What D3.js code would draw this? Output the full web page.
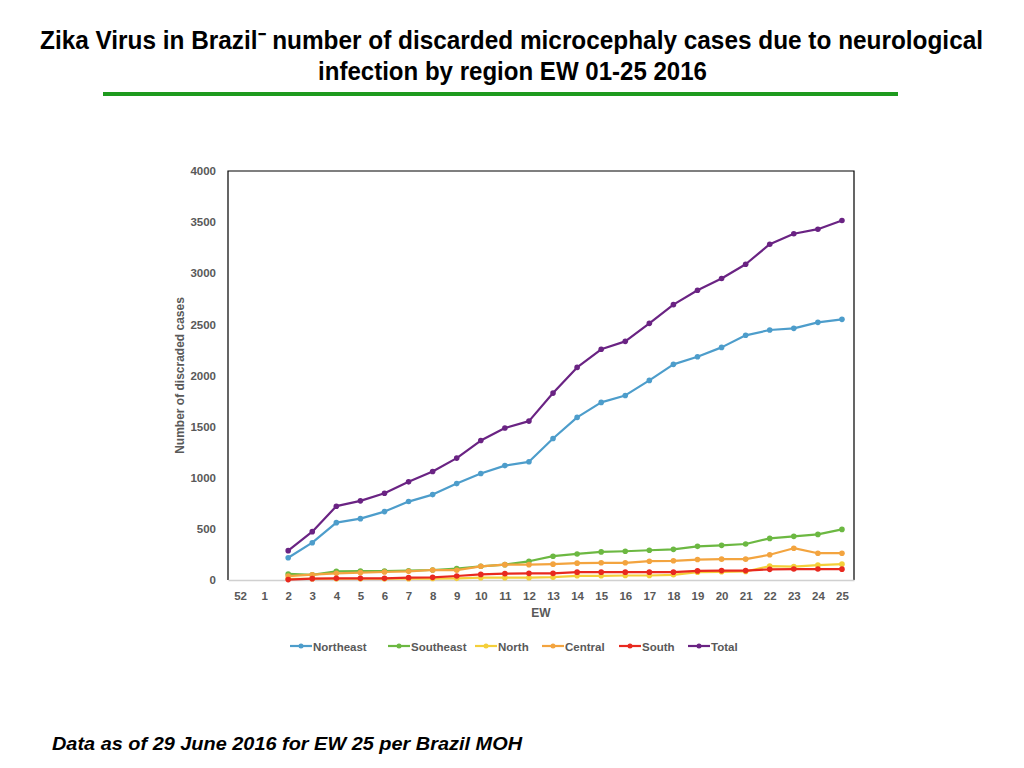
<!DOCTYPE html>
<html>
<head>
<meta charset="utf-8">
<script src="https://cdn.jsdelivr.net/npm/d3@7"></script>
<style>
  body { margin: 0; background: #fff; }
  svg { display: block; }
</style>
</head>
<body>
<svg id="chart" width="1024" height="768"></svg>
<script>
// Epidemiological weeks shown on the x axis
const weeks = ["52", "1", "2", "3", "4", "5", "6", "7", "8", "9", "10", "11", "12",
  "13", "14", "15", "16", "17", "18", "19", "20", "21", "22", "23", "24", "25"];

// Values per region, EW 2..25 (EW 52 and 1 have no data)
const dataWeeks = weeks.slice(2);
const northeast = [218, 365, 561, 600, 669, 767, 835, 943, 1041, 1119, 1156, 1384,
  1590, 1737, 1805, 1952, 2109, 2184, 2275, 2393, 2445, 2461, 2520, 2549];
const southeast = [59, 50, 85, 88, 88, 91, 98, 112, 134, 150, 183, 233,
  255, 275, 281, 291, 300, 329, 339, 352, 407, 427, 446, 495];
const north = [12, 12, 12, 12, 12, 12, 14, 16, 23, 23, 23, 28,
  41, 41, 44, 44, 51, 77, 80, 83, 136, 131, 145, 155];
const central = [38, 52, 65, 72, 78, 85, 98, 96, 134, 150, 150, 155,
  165, 168, 168, 184, 188, 200, 204, 204, 247, 311, 262, 262];
const south = [4, 13, 16, 16, 16, 23, 26, 39, 55, 62, 65, 65,
  77, 77, 77, 77, 77, 89, 92, 92, 104, 107, 107, 106];
const total = [287, 473, 722, 774, 849, 960, 1061, 1192, 1364, 1486, 1554, 1828,
  2079, 2256, 2334, 2510, 2693, 2834, 2948, 3088, 3284, 3386, 3431, 3516];

const yTicks = [0, 500, 1000, 1500, 2000, 2500, 3000, 3500, 4000];

const seriesNames = ["Northeast", "Southeast", "North", "Central", "South", "Total"];
const seriesValues = [northeast, southeast, north, central, south, total];
const seriesColors = ["#4d9dcb", "#6cb842", "#f4cf3a", "#f3a43f", "#e8291f", "#6a2383"];

const svg = d3.select("#chart");
const tickFont = "'Liberation Sans', Arial, sans-serif";
const gray = "#595959";

// Title: condensed bold heading, squeezed to the original line widths
const titleLines = [
  "Zika Virus in Brazil\u207B  number of  discarded microcephaly cases due to neurological",
  "infection by region EW 01-25 2016"
];
const title = svg.append("g")
  .style("font-family", "'Liberation Sans', Arial, sans-serif")
  .style("font-weight", "bold")
  .style("font-size", "25px");
title.append("text")
  .attr("x", 40).attr("y", 49)
  .attr("textLength", 943)
  .attr("lengthAdjust", "spacingAndGlyphs")
  .text(titleLines[0]);
title.append("text")
  .attr("x", 318).attr("y", 80)
  .attr("textLength", 389)
  .attr("lengthAdjust", "spacingAndGlyphs")
  .text(titleLines[1]);

svg.append("line")
  .attr("x1", 103).attr("x2", 898)
  .attr("y1", 94).attr("y2", 94)
  .attr("stroke", "#1e9a1e")
  .attr("stroke-width", 4);

// Plot area
const plot = { left: 228, right: 854, top: 171, bottom: 580 };

const x = d3.scalePoint()
  .domain(weeks)
  .range([plot.left, plot.right])
  .padding(0.5);
const y = d3.scaleLinear()
  .domain([0, 4000])
  .range([plot.bottom, plot.top]);

// Frame: black on top, left and right, light gray baseline
svg.append("path")
  .attr("d", `M${plot.left},${plot.bottom}V${plot.top}H${plot.right}V${plot.bottom}`)
  .attr("fill", "none")
  .attr("stroke", "#000")
  .attr("stroke-width", 1.2);

const xAxis = svg.append("g")
  .attr("transform", `translate(0,${plot.bottom})`)
  .call(d3.axisBottom(x).tickSize(0).tickPadding(12));
xAxis.select(".domain").attr("stroke", "#d0d0d0").attr("stroke-width", 1.5);
xAxis.selectAll("text")
  .style("font-family", tickFont)
  .style("font-size", "11.5px")
  .style("font-weight", "bold")
  .attr("fill", gray);

const yAxis = svg.append("g")
  .attr("transform", `translate(${plot.left},0)`)
  .call(d3.axisLeft(y).tickValues(yTicks).tickFormat(d3.format("d")).tickSize(0).tickPadding(12));
yAxis.select(".domain").remove();
yAxis.selectAll("text")
  .style("font-family", tickFont)
  .style("font-size", "11.5px")
  .style("font-weight", "bold")
  .attr("fill", gray);

// Axis titles
svg.append("text")
  .attr("transform", `translate(184,${(plot.top + plot.bottom) / 2}) rotate(-90)`)
  .attr("text-anchor", "middle")
  .style("font-family", tickFont)
  .style("font-size", "12px")
  .style("font-weight", "bold")
  .attr("fill", gray)
  .text("Number of discraded cases");

svg.append("text")
  .attr("x", (plot.left + plot.right) / 2)
  .attr("y", 617)
  .attr("text-anchor", "middle")
  .style("font-family", tickFont)
  .style("font-size", "12px")
  .style("font-weight", "bold")
  .attr("fill", gray)
  .text("EW");

// Series lines and markers
const line = d3.line()
  .x((d, i) => x(dataWeeks[i]))
  .y(d => y(d));

seriesNames.forEach((name, k) => {
  const g = svg.append("g").attr("class", "series");
  g.append("path")
    .datum(seriesValues[k])
    .attr("d", line)
    .attr("fill", "none")
    .attr("stroke", seriesColors[k])
    .attr("stroke-width", 2.2)
    .attr("stroke-linejoin", "round");
  g.selectAll("circle")
    .data(seriesValues[k])
    .join("circle")
    .attr("cx", (d, i) => x(dataWeeks[i]))
    .attr("cy", d => y(d))
    .attr("r", 2.8)
    .attr("fill", seriesColors[k]);
});

// Legend, item offsets matched to the original layout
const legendOffsets = [0, 98, 185, 252, 329, 398];
const legend = svg.append("g").attr("transform", "translate(290,646)");
seriesNames.forEach((name, k) => {
  const item = legend.append("g").attr("transform", `translate(${legendOffsets[k]},0)`);
  item.append("line")
    .attr("x1", 0).attr("x2", 22)
    .attr("stroke", seriesColors[k])
    .attr("stroke-width", 2.2);
  item.append("circle")
    .attr("cx", 11).attr("r", 2.5)
    .attr("fill", seriesColors[k]);
  item.append("text")
    .attr("x", 23).attr("y", 4.5)
    .style("font-family", tickFont)
    .style("font-size", "11.5px")
    .style("font-weight", "bold")
    .attr("fill", gray)
    .text(name);
});

// Footnote
svg.append("text")
  .attr("x", 52).attr("y", 750)
  .attr("textLength", 470)
  .attr("lengthAdjust", "spacingAndGlyphs")
  .style("font-family", tickFont)
  .style("font-size", "19px")
  .style("font-weight", "bold")
  .style("font-style", "italic")
  .attr("fill", "#000")
  .text("Data as of 29 June 2016 for EW 25 per Brazil MOH");
</script>
</body>
</html>
